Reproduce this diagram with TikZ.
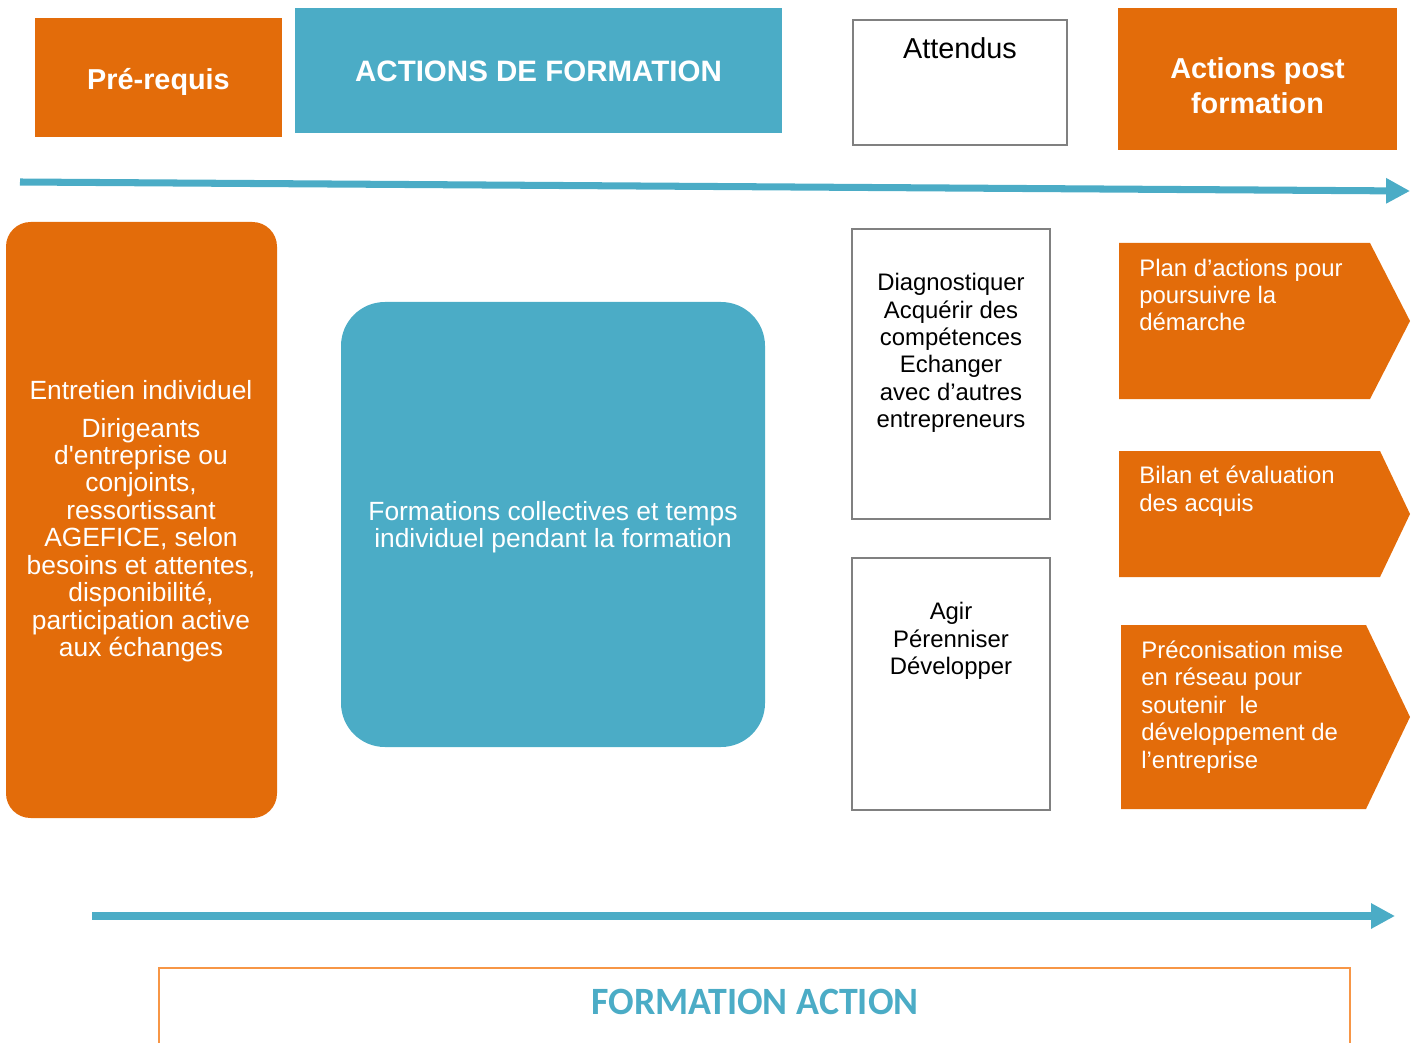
\documentclass[tikz,border=0pt]{standalone}
\usepackage{fontspec}
\setmainfont{Liberation Sans}
\newfontfamily\carlito{Carlito}
\usepackage{xcolor}
\usetikzlibrary{arrows.meta,positioning}

\definecolor{orangebox}{RGB}{227,108,10}
\definecolor{bluebox}{RGB}{75,172,198}
\definecolor{greyline}{RGB}{128,128,128}
\definecolor{orangeline}{RGB}{247,150,70}

\tikzset{
  timeline/.style={bluebox, line width=4pt, -{Triangle[length=13.6pt,width=13.6pt]}},
  headtext/.style={text=white, font=\fontsize{16.4}{19.8}\selectfont\bfseries, align=center, inner sep=0pt},
  bodytext/.style={text=white, font=\fontsize{15}{15.6}\selectfont, align=center, inner sep=0pt},
  smalltext/.style={font=\fontsize{13.6}{15.6}\selectfont, align=center, inner sep=0pt},
  % anchored on the baseline of the last line
  steptext/.style={text=white, font=\fontsize{13.6}{15.6}\selectfont, align=left, inner sep=0pt, anchor=base west},
}

\begin{document}
\begin{tikzpicture}[x=0.02cm, y=-0.02cm]
    \useasboundingbox (0, 0) rectangle (1415, 1043);

    % header row
    \fill[orangebox] (35, 18) rectangle (282, 137);
    \node[headtext] (prereq) at (158.5, 82) {Pré-requis};
    \fill[bluebox] (295, 8) rectangle (782, 133);
    \node[headtext, font=\fontsize{16.8}{20}\selectfont\bfseries] (actions) at (538.5, 71) {ACTIONS DE FORMATION};
    \draw[greyline, line width=1.1pt] (853, 20) rectangle (1067, 145);
    \node[inner sep=0pt, font=\fontsize{16.4}{19.8}\selectfont] (attendus) at (960, 48) {Attendus};
    \fill[orangebox] (1118, 8) rectangle (1397, 150);
    \node[headtext] (post) at (1257.5, 86) {Actions post\\formation};

    % top timeline
    \coordinate (top start) at (20, 182);
    \coordinate (top end) at (1410, 191);
    \draw[timeline] (top start) -- (top end);

    % pre-requis
    \fill[orangebox, rounded corners=14pt] (6, 222) rectangle (277, 818);
    \node[bodytext] (entretien) at (141, 521) {Entretien individuel\\[6pt]Dirigeants\\d\textquotesingle entreprise ou\\conjoints,\\ressortissant\\AGEFICE, selon\\besoins et attentes,\\disponibilité,\\participation active\\aux échanges};

    % formation
    \fill[bluebox, rounded corners=25pt] (341, 302) rectangle (765, 747);
    \node[bodytext] (formations) at (553, 527) {Formations collectives et temps\\individuel pendant la formation};

    % attendus
    \draw[greyline, line width=1.1pt] (852, 229) rectangle (1050, 519);
    \node[smalltext] (diagnostic) at (951, 353) {Diagnostiquer\\Acquérir des\\compétences\\Echanger\\avec d’autres\\entrepreneurs};
    \draw[greyline, line width=1.1pt] (852, 558) rectangle (1050, 810);
    \node[smalltext] (agir) at (951, 641) {Agir\\Pérenniser\\Développer};

    % post formation
    \fill[orangebox] (1119, 243) -- (1370, 243) -- (1410, 321) -- (1370, 399) -- (1119, 399) -- cycle;
    \node[steptext] (plan) at (1139, 331) {Plan d’actions pour\\poursuivre la\\démarche};
    \fill[orangebox] (1119, 451) -- (1380, 451) -- (1410, 514) -- (1380, 577) -- (1119, 577) -- cycle;
    \node[steptext] (bilan) at (1139, 511) {Bilan et évaluation\\des acquis};
    \fill[orangebox] (1121, 625) -- (1366, 625) -- (1410, 717) -- (1366, 809) -- (1121, 809) -- cycle;
    \node[steptext] (reseau) at (1141, 768) {Préconisation mise\\en réseau pour\\soutenir\ \ le\\développement de\\l’entreprise};

    % bottom timeline
    \coordinate (bottom start) at (92, 916);
    \coordinate (bottom end) at (1395, 916);
    \draw[timeline] (bottom start) -- (bottom end);

    % formation action
    \draw[orangeline, line width=1.1pt] (159, 1050) -- (159, 968) -- (1350, 968) -- (1350, 1050);
    \node[text=bluebox, inner sep=0pt, xscale=0.98, font=\carlito\fontsize{22}{24}\selectfont\bfseries] (title) at (755, 1002) {FORMATION ACTION};
\end{tikzpicture}
\end{document}
